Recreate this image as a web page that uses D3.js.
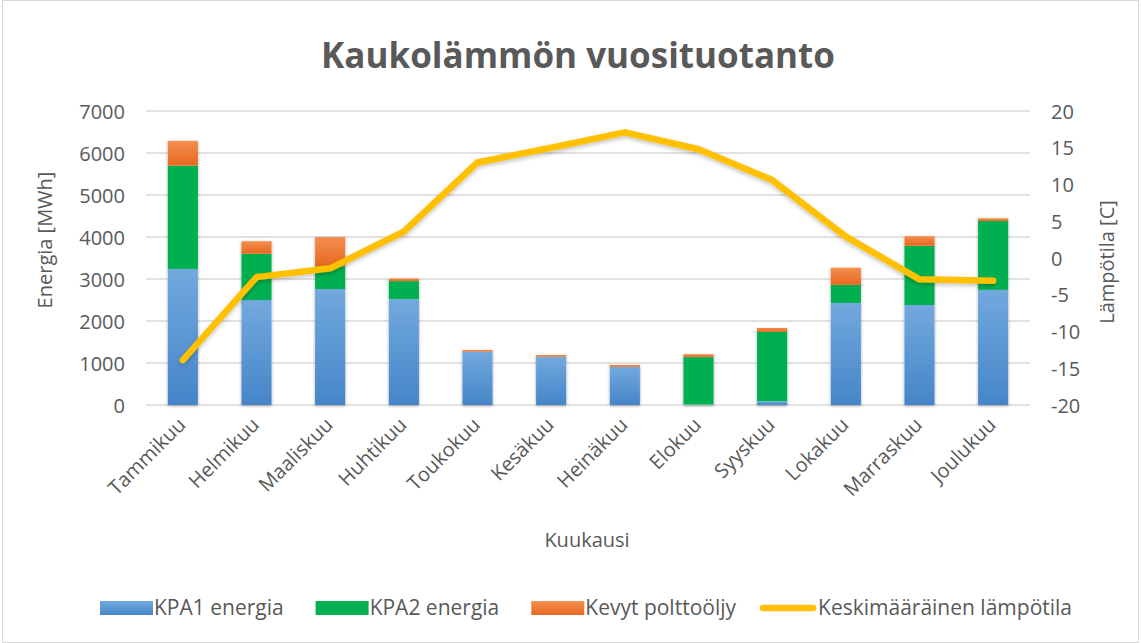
<!DOCTYPE html>
<html>
<head>
<meta charset="utf-8">
<script src="https://cdn.jsdelivr.net/npm/d3@7"></script>
<style>
body{margin:0;background:#fff;}
text{font-family:"Open Sans",sans-serif;fill:#595959;}
</style>
</head>
<body>
<svg id="chart"></svg>
<script>
// kaukolampo

var w=1141,h=643;
var svg=d3.select("#chart").attr("width",w).attr("height",h);

// data

var months=["Tammikuu","Helmikuu","Maaliskuu","Huhtikuu","Toukokuu","Kesäkuu","Heinäkuu","Elokuu","Syyskuu","Lokakuu","Marraskuu","Joulukuu"];
var kpa1=[3240,2500,2760,2520,1270,1150,910,10,90,2430,2380,2740];
var kpa2=[2460,1100,540,430,0,0,0,1130,1650,430,1410,1640];
var oil=[590,300,700,65,40,40,45,70,95,410,230,65];
var temp=[-13.9,-2.6,-1.4,3.6,13.0,15.0,17.1,14.8,10.6,2.9,-2.9,-3.1];
var yTicks=[0,1000,2000,3000,4000,5000,6000,7000];
var tTicks=[-20,-15,-10,-5,0,5,10,15,20];
var seriesNames=["KPA1 energia","KPA2 energia","Kevyt polttoöljy","Keskimääräinen lämpötila"];

var rows=months.map(function(m,i){return {month:m,kpa1:kpa1[i],kpa2:kpa2[i],oil:oil[i],temp:temp[i]};});

// scales

var x=d3.scaleBand().domain(months).range([146,1030]).paddingInner(0.59).paddingOuter(0.295);
var y=d3.scaleLinear().domain([0,7000]).range([405,111]);
var yT=d3.scaleLinear().domain([-20,20]).range([405,111]);

// defs: gradients + shadow
var defs=svg.append("defs");
function grad(id,c1,c2){
	var g=defs.append("linearGradient").attr("id",id).attr("x1",0).attr("y1",0).attr("x2",0).attr("y2",1);
	g.append("stop").attr("offset","0%").attr("stop-color",c1);
	g.append("stop").attr("offset","100%").attr("stop-color",c2);
}
grad("gBlue","#72a9de","#4585c8");
grad("gGreen","#00b050","#00b050");
grad("gOrange","#f38e52","#e8681e");
var f=defs.append("filter").attr("id","shadow").attr("x","-20%").attr("y","-20%").attr("width","140%").attr("height","140%");
f.append("feDropShadow").attr("dx",0).attr("dy",1).attr("stdDeviation",1.6).attr("flood-color","#000").attr("flood-opacity",0.35);
var fl=defs.append("filter").attr("id","lshadow").attr("x","-5%").attr("y","-20%").attr("width","110%").attr("height","140%");
fl.append("feDropShadow").attr("dx",0).attr("dy",2).attr("stdDeviation",2).attr("flood-color","#000").attr("flood-opacity",0.25);

// frame
svg.append("rect").attr("x",2.5).attr("y",0.5).attr("width",w-5).attr("height",h-1)
	.style("fill","#fff").style("stroke","#d9d9d9");

// title
svg.append("text").attr("x",578).attr("y",68).attr("text-anchor","middle")
	.style("font-size","35px").style("font-weight","bold").text("Kaukolämmön vuosituotanto");

// grid
svg.selectAll(".grid").data(yTicks).enter().append("line")
	.attr("x1",146).attr("x2",1030)
	.attr("y1",function(d){return y(d);}).attr("y2",function(d){return y(d);})
	.style("stroke","#d9d9d9").style("stroke-width",1.3);

// axes
var axL=svg.append("g").attr("transform","translate(136,0)")
	.call(d3.axisLeft(y).tickValues(yTicks).tickFormat(d3.format("d")).tickSize(0).tickPadding(0));
var axR=svg.append("g").attr("transform","translate(1050,0)")
	.call(d3.axisRight(yT).tickValues(tTicks).tickFormat(d3.format("d")).tickSize(0).tickPadding(0));
var axB=svg.append("g").attr("transform","translate(0,405)")
	.call(d3.axisBottom(x).tickSize(0).tickPadding(0));
[axL,axR,axB].forEach(function(a){a.select(".domain").remove();a.selectAll("text").style("font-size","20px").style("fill","#595959").style("font-family","'Open Sans',sans-serif");});
axL.selectAll("text").attr("x",-11).attr("dy","0.35em");
axR.selectAll("text").attr("x",1).attr("dy","0.35em");
axR.selectAll("text").text(function(d){return d<0?"-"+Math.abs(d):d;});
axB.selectAll("text").attr("text-anchor","end").attr("dy",0)
	.attr("transform",function(){return "translate(4,21) rotate(-45)";}).attr("y",0).attr("x",0);

// axis titles
svg.append("text").attr("transform","translate(52,240) rotate(-90)").attr("text-anchor","middle")
	.style("font-size","20px").text("Energia [MWh]");
svg.append("text").attr("transform","translate(1114,262) rotate(-90)").attr("text-anchor","middle")
	.style("font-size","20px").text("Lämpötila [C]");
svg.append("text").attr("x",587).attr("y",547).attr("text-anchor","middle")
	.style("font-size","20px").text("Kuukausi");

// stacked bars
var keys=["kpa1","kpa2","oil"];
var fills={kpa1:"url(#gBlue)",kpa2:"url(#gGreen)",oil:"url(#gOrange)"};
var stack=d3.stack().keys(keys)(rows);

var gBars=svg.append("g");
// shadow layer under whole bars
gBars.selectAll(".shadow").data(rows).enter().append("rect")
	.attr("x",function(d){return x(d.month);})
	.attr("width",x.bandwidth())
	.attr("y",function(d){return y(d.kpa1+d.kpa2+d.oil);})
	.attr("height",function(d){return y(0)-y(d.kpa1+d.kpa2+d.oil);})
	.style("fill","#fff").attr("filter","url(#shadow)");
stack.forEach(function(s){
	gBars.selectAll(".b-"+s.key).data(s).enter().append("rect")
		.attr("x",function(d){return x(d.data.month);})
		.attr("width",x.bandwidth())
		.attr("y",function(d){return y(d[1]);})
		.attr("height",function(d){return Math.max(0,y(d[0])-y(d[1]));})
		.style("fill",fills[s.key]);
});

// temperature line
var line=d3.line().x(function(d){return x(d.month)+x.bandwidth()/2;}).y(function(d){return yT(d.temp);});
svg.append("path").datum(rows).attr("d",line)
	.style("fill","none").style("stroke","#ffc000").style("stroke-width",6.5)
	.style("stroke-linejoin","round").style("stroke-linecap","round")
	.attr("filter","url(#lshadow)");

// legend
var leg=svg.append("g");
var items=[{t:seriesNames[0],f:"url(#gBlue)"},{t:seriesNames[1],f:"url(#gGreen)"},{t:seriesNames[2],f:"url(#gOrange)"},{t:seriesNames[3],line:true}];
var cx=0;
items.forEach(function(it,i){
	var g=leg.append("g").attr("transform","translate("+cx+",0)");
	if(it.line){
		g.append("line").attr("x1",4).attr("x2",54).attr("y1",0).attr("y2",0)
			.style("stroke","#ffc000").style("stroke-width",6.5).style("stroke-linecap","round");
	} else {
		g.append("rect").attr("x",0).attr("y",-7).attr("width",53).attr("height",14).style("fill",it.f);
	}
	var t=g.append("text").attr("x",it.line?59:54).attr("y",0).attr("dy","0.35em").style("font-size","21px").text(it.t);
	cx+=(it.line?59:54)+t.node().getComputedTextLength()+(i==2?23:32);
});
var lw=cx-32;
leg.attr("transform","translate("+(586-lw/2)+",608)");
</script>
</body>
</html>
